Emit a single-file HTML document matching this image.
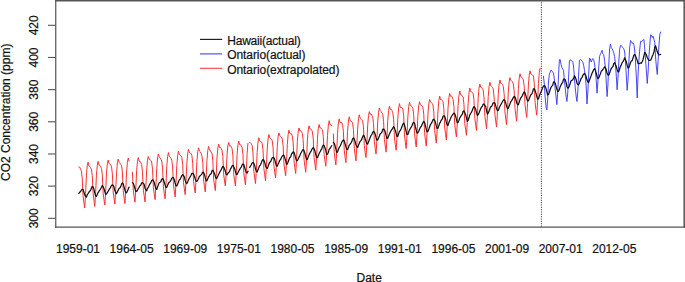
<!DOCTYPE html>
<html><head><meta charset="utf-8"><style>
html,body{margin:0;padding:0;background:#fff;width:685px;height:282px;overflow:hidden;font-family:"Liberation Sans", sans-serif;}
svg{display:block}
text{stroke:#111;stroke-width:0.2px}
</style></head><body>
<svg width="685" height="282" viewBox="0 0 685 282">
<rect width="685" height="282" fill="#fff"/>
<g fill="none" stroke-linejoin="round" stroke-linecap="round">
<path d="M78.87,167.07 79.71,167.17 80.54,169.21 81.38,171.14 82.22,178.08 83.06,195.73 83.89,202.67 84.73,208.04 85.57,193.51 86.40,175.94 87.24,165.65 88.08,162.23 88.92,165.78 89.75,166.41 90.59,167.82 91.43,169.16 92.26,175.44 93.10,193.56 93.94,200.21 94.77,206.39 95.61,193.03 96.45,175.18 97.29,165.38 98.12,161.32 98.96,165.08 99.80,165.30 100.63,166.36 101.47,168.49 102.31,174.61 103.15,193.28 103.98,199.59 104.82,205.04 105.66,191.77 106.49,172.93 107.33,163.71 108.17,160.08 109.01,163.49 109.84,164.00 110.68,164.62 111.52,166.81 112.35,173.95 113.19,192.01 114.03,198.03 114.87,204.10 115.70,189.83 116.54,172.77 117.38,162.81 118.21,159.05 119.05,162.28 119.89,163.21 120.72,164.36 121.56,165.59 122.40,172.09 123.24,190.71 124.07,197.83 124.91,203.55 125.75,189.92 126.58,171.92 127.42,162.24 128.26,158.03 129.10,161.02M132.44,172.12 133.28,190.07 134.12,196.79 134.96,202.14 135.79,189.17 136.63,170.58 137.47,161.30 138.30,157.50 139.14,161.23 139.98,161.15 140.82,162.80 141.65,164.45 142.49,172.21 143.33,190.10 144.16,195.60 145.00,201.89 145.84,187.48 146.68,169.93 147.51,159.52 148.35,156.44 149.19,159.43 150.02,159.40 150.86,160.52 151.70,162.07 152.53,169.31 153.37,187.25 154.21,193.80 155.05,199.63 155.88,186.23 156.72,168.72 157.56,158.11 158.39,153.98 159.23,156.83 160.07,158.02 160.91,159.54 161.74,161.00 162.58,167.92 163.42,186.73 164.25,193.59 165.09,198.78 165.93,185.29 166.77,166.75 167.60,156.70 168.44,152.57 169.28,156.48 170.11,157.04 170.95,158.25 171.79,160.07 172.63,167.05 173.46,184.81 174.30,191.16 175.14,196.97 175.97,183.65 176.81,165.46 177.65,155.79 178.48,151.14 179.32,154.32 180.16,155.11 181.00,155.61 181.83,157.58 182.67,164.31 183.51,182.77 184.34,188.52 185.18,194.62 186.02,180.56 186.86,163.14 187.69,153.47 188.53,149.31 189.37,152.71 190.20,152.75 191.04,153.64 191.88,155.35 192.72,163.25 193.55,181.32 194.39,187.82 195.23,193.06 196.06,179.48 196.90,161.19 197.74,151.71 198.58,147.78 199.41,151.01 200.25,151.70 201.09,153.27 201.92,155.89 202.76,161.96 203.60,179.95 204.44,186.28 205.27,191.94 206.11,179.07 206.95,160.44 207.78,150.53 208.62,146.43 209.46,150.11 210.29,150.24 211.13,152.41 211.97,152.94 212.81,160.23 213.64,179.16 214.48,185.24 215.32,190.59 216.15,176.83 216.99,157.95 217.83,147.94 218.67,144.09 219.50,147.43 220.34,147.32 221.18,148.53 222.01,150.26 222.85,156.57 223.69,174.64 224.53,180.97 225.36,186.05 226.20,172.78 227.04,154.95 227.87,145.43 228.71,142.44 229.55,146.20 230.39,145.57 231.22,146.74 232.06,148.51 232.90,155.65 233.73,174.37 234.57,180.50 235.41,185.93 236.24,172.90 237.08,154.66 237.92,144.98 238.76,141.03 239.59,144.61 240.43,144.51 241.27,145.90 242.10,147.51 242.94,154.31 243.78,172.32 244.62,179.41 245.45,184.92 246.29,171.19 247.13,153.20 247.96,143.42M249.64,142.56 250.48,142.78 251.31,143.69 252.15,145.59 252.99,152.93 253.82,171.20 254.66,177.65 255.50,183.60 256.34,170.07 257.17,152.28 258.01,142.17 258.85,137.83 259.68,140.79 260.52,141.49 261.36,141.87 262.19,143.33 263.03,150.11 263.87,168.27 264.71,174.81 265.54,180.84 266.38,166.61 267.22,148.94 268.05,138.99 268.89,134.55 269.73,137.68 270.57,138.49 271.40,138.93 272.24,140.76 273.08,148.19 273.91,165.82 274.75,172.37 275.59,177.92 276.43,164.82 277.26,146.82 278.10,136.70 278.94,132.88 279.77,135.78 280.61,136.41 281.45,136.92 282.29,139.07 283.12,145.97 283.96,163.69 284.80,170.56 285.63,175.79 286.47,163.07 287.31,144.82 288.14,134.62 288.98,130.18 289.82,133.07 290.66,133.98 291.49,133.71 292.33,136.20 293.17,142.95 294.00,160.84 294.84,167.79 295.68,173.50 296.52,160.09 297.35,141.57 298.19,131.87 299.03,127.94 299.86,131.22 300.70,130.78 301.54,131.74 302.38,133.58 303.21,140.75 304.05,159.21 304.89,166.38 305.72,172.24 306.56,158.87 307.40,140.30 308.24,129.96 309.07,125.82 309.91,128.93 310.75,129.06 311.58,129.73 312.42,131.97 313.26,138.90 314.10,157.54 314.93,164.01 315.77,170.13 316.61,156.92 317.44,138.76 318.28,128.60 319.12,124.48 319.95,127.97 320.79,127.68 321.63,129.13 322.47,129.88 323.30,136.45 324.14,154.56 324.98,161.09 325.81,166.25 326.65,154.07 327.49,135.53 328.33,125.73 329.16,120.69 330.00,124.45 330.84,124.67 331.67,125.82M333.35,133.91 334.19,152.32 335.02,158.95 335.86,164.88 336.70,152.23 337.53,133.47 338.37,122.97 339.21,118.84 340.05,122.53 340.88,122.41 341.72,122.58 342.56,124.72 343.39,131.65 344.23,150.12 345.07,157.19 345.90,162.76 346.74,149.17 347.58,131.29 348.42,121.06 349.25,116.81 350.09,120.53 350.93,120.96 351.76,121.92 352.60,122.90 353.44,129.70 354.28,148.15 355.11,155.09 355.95,160.91 356.79,146.50 357.62,129.21 358.46,118.91 359.30,114.78 360.14,117.90 360.97,118.67 361.81,119.57 362.65,120.73 363.48,127.23 364.32,145.57 365.16,152.71 366.00,157.59 366.83,144.09 367.67,125.89 368.51,115.63 369.34,111.65 370.18,114.25 371.02,113.74 371.85,115.30 372.69,116.77 373.53,123.62 374.37,141.70 375.20,148.33 376.04,154.02 376.88,140.63 377.71,122.04 378.55,112.19 379.39,108.01 380.23,110.68 381.06,111.64 381.90,113.05 382.74,113.97 383.57,121.37 384.41,139.66 385.25,146.01 386.09,152.13 386.92,138.97 387.76,120.35 388.60,110.32 389.43,106.21 390.27,109.32 391.11,109.17 391.95,110.47 392.78,112.78 393.62,119.13 394.46,137.99 395.29,144.61 396.13,150.25 396.97,137.18 397.81,118.52 398.64,107.97 399.48,103.63 400.32,107.66 401.15,107.53 401.99,107.74 402.83,109.08 403.66,115.76 404.50,134.88 405.34,142.51 406.18,148.49 407.01,135.32 407.85,116.89 408.69,106.53 409.52,102.38 410.36,105.71 411.20,106.02 412.04,106.70 412.87,108.19 413.71,115.21 414.55,133.29 415.38,141.17 416.22,146.97 417.06,133.97 417.90,115.20 418.73,105.85 419.57,101.72 420.41,104.57 421.24,105.31 422.08,105.79 422.92,107.67 423.76,114.23 424.59,132.71 425.43,140.28 426.27,146.12 427.10,132.86 427.94,114.10 428.78,104.01 429.61,99.52 430.45,101.98 431.29,102.59 432.13,103.31 432.96,104.88 433.80,112.04 434.64,130.60 435.47,137.21 436.31,143.07 437.15,129.57 437.99,110.99 438.82,100.54 439.66,96.08 440.50,99.49 441.33,99.34 442.17,100.72 443.01,101.50 443.85,108.78 444.68,127.02 445.52,133.59 446.36,140.02 447.19,126.13 448.03,108.26 448.87,97.48 449.71,93.51 450.54,96.29 451.38,95.92 452.22,97.08 453.05,99.56 453.89,106.31 454.73,124.43 455.56,130.92 456.40,136.93 457.24,124.01 458.08,105.46 458.91,95.67 459.75,91.03 460.59,94.56 461.42,94.75 462.26,96.25 463.10,97.07 463.94,104.20 464.77,123.41 465.61,129.68 466.45,135.37 467.28,122.90 468.12,103.67 468.96,93.11 469.80,88.05 470.63,91.60 471.47,91.84 472.31,92.43 473.14,93.72 473.98,100.18 474.82,118.45 475.66,124.79 476.49,130.48 477.33,117.18 478.17,98.33 479.00,88.51 479.84,84.12 480.68,87.05 481.52,87.15 482.35,88.56 483.19,90.11 484.03,97.96 484.86,116.41 485.70,122.20 486.54,128.80 487.37,115.97 488.21,96.78 489.05,86.69 489.89,82.35 490.72,85.37 491.56,86.44 492.40,87.16 493.23,88.85 494.07,97.01 494.91,114.28 495.75,121.58 496.58,126.93 497.42,112.65 498.26,94.27 499.09,84.19 499.93,79.97 500.77,83.40 501.61,83.45 502.44,84.39 503.28,86.50 504.12,93.57 504.95,111.99 505.79,119.07 506.63,124.69 507.47,110.86 508.30,92.11 509.14,82.08 509.98,77.59 510.81,80.46 511.65,80.89 512.49,81.82 513.32,84.00 514.16,90.68 515.00,108.49 515.84,115.28 516.67,121.29 517.51,106.96 518.35,88.93 519.18,78.31 520.02,73.72 520.86,76.89 521.70,77.19 522.53,78.29 523.37,79.89 524.21,86.37 525.04,104.83 525.88,111.84 526.72,117.41 527.56,103.58 528.39,85.21 529.23,75.12 530.07,70.84 530.90,74.00 531.74,74.56 532.58,75.32 533.42,75.66 534.25,83.29 535.09,102.35 535.93,109.55 536.76,115.21 537.60,101.94 538.44,83.33 539.27,72.83 540.11,68.12" stroke="#ff3030" stroke-width="1.0"/>
<path d="M543.46,76.30 544.30,84.00 545.13,97.00 545.97,106.00 546.81,110.00 547.65,100.00 548.48,82.00 549.32,74.50 550.16,72.20 550.99,70.00 551.83,70.80 552.67,71.90 553.51,73.10 554.34,79.00 555.18,89.00 556.02,97.00 556.85,104.60 557.69,93.00 558.53,76.00 559.37,59.70 560.20,59.50 561.04,64.30 561.88,67.50 562.71,68.90 563.55,70.80 564.39,80.00 565.23,88.00 566.06,96.00 566.90,101.50 567.74,93.00 568.57,78.00 569.41,61.00 570.25,59.70 571.08,60.50 571.92,61.00 572.76,61.50 573.60,67.00 574.43,78.00 575.27,88.00 576.11,96.00 576.94,101.50 577.78,92.00 578.62,75.00 579.46,60.20 580.29,59.70 581.13,59.70 581.97,61.10 582.80,62.00 583.64,65.20 584.48,70.30 585.32,76.00 586.15,86.00 586.99,104.00 587.83,92.00 588.66,75.00 589.50,58.00 590.34,59.00 591.18,62.00 592.01,60.00 592.85,58.50 593.69,59.50 594.52,64.00 595.36,70.00 596.20,80.00 597.03,93.20 597.87,82.00 598.71,68.00 599.55,56.40 600.38,54.30 601.22,52.50 602.06,50.30 602.89,53.70 603.73,54.60 604.57,60.30 605.41,68.00 606.24,82.00 607.08,96.60 607.92,85.00 608.75,65.00 609.59,49.00 610.43,44.20 611.27,47.40 612.10,48.80 612.94,50.60 613.78,52.90 614.61,56.60 615.45,64.00 616.29,76.00 617.13,89.70 617.96,78.00 618.80,62.00 619.64,49.20 620.47,45.50 621.31,45.50 622.15,46.90 622.99,47.90 623.82,48.80 624.66,52.00 625.50,62.00 626.33,76.00 627.17,90.30 628.01,80.00 628.84,62.00 629.68,48.00 630.52,40.50 631.36,41.90 632.19,43.20 633.03,42.80 633.87,44.60 634.70,50.00 635.54,62.00 636.38,78.00 637.22,98.00 638.05,75.00 638.89,60.00 639.73,50.00 640.56,41.40 641.40,41.90 642.24,41.00 643.08,40.00 643.91,39.50 644.75,49.20 645.59,60.00 646.42,72.00 647.26,83.50 648.10,72.00 648.94,56.00 649.77,45.00 650.61,34.80 651.45,35.20 652.28,37.50 653.12,36.10 653.96,39.40 654.79,42.60 655.63,58.00 656.47,68.00 657.31,74.50 658.14,60.00 658.98,45.00 659.82,34.30 660.65,32.00" stroke="#3c3cff" stroke-width="0.95"/>
<path d="M78.87,193.50 79.71,192.07 80.54,191.76 81.38,190.06 82.22,189.14 83.06,189.35 83.89,191.94 84.73,194.74 85.57,196.30 86.40,197.10 87.24,194.72 88.08,193.48 88.92,192.13 89.75,191.26 90.59,190.28 91.43,187.95 92.26,186.34 93.10,187.05 93.94,189.33 94.77,192.99 95.61,195.78 96.45,196.30 97.29,194.43 98.12,192.52 98.96,191.39 99.80,190.09 100.63,188.74 101.47,187.24 102.31,185.46 103.15,186.76 103.98,188.68 104.82,191.55 105.66,194.45 106.49,193.92 107.33,192.66 108.17,191.20 109.01,189.70 109.84,188.71 110.68,186.89 111.52,185.46 112.35,184.77 113.19,185.41 114.03,187.02 114.87,190.56 115.70,192.39 116.54,193.74 117.38,191.71 118.21,190.11 119.05,188.42 119.89,187.87 120.72,186.62 121.56,184.17 122.40,182.79 123.24,184.03 124.07,186.81 124.91,189.98 125.75,192.49 126.58,192.84 127.42,191.10 128.26,189.03 129.10,187.08M132.44,182.82 133.28,183.35 134.12,185.70 134.96,188.48 135.79,191.70 136.63,191.43 137.47,190.11 138.30,188.47 139.14,187.31 139.98,185.68 140.82,184.96 141.65,182.97 142.49,182.92 143.33,183.38 144.16,184.45 145.00,188.21 145.84,189.90 146.68,190.73 147.51,188.22 148.35,187.34 149.19,185.39 150.02,183.83 150.86,182.55 151.70,180.44 152.53,179.85 153.37,180.36 154.21,182.53 155.05,185.81 155.88,188.58 156.72,189.45 157.56,186.73 158.39,184.73 159.23,182.64 160.07,182.37 160.91,181.50 161.74,179.30 162.58,178.37 163.42,179.81 164.25,182.31 165.09,184.91 165.93,187.58 166.77,187.36 167.60,185.23 168.44,183.24 169.28,182.27 170.11,181.33 170.95,180.14 171.79,178.32 172.63,177.45 173.46,177.77 174.30,179.73 175.14,183.00 175.97,185.84 176.81,185.99 177.65,184.27 178.48,181.73 179.32,179.97 180.16,179.28 181.00,177.34 181.83,175.68 182.67,174.54 183.51,175.62 184.34,176.93 185.18,180.50 186.02,182.56 186.86,183.53 187.69,181.81 188.53,179.78 189.37,178.27 190.20,176.77 191.04,175.25 191.88,173.32 192.72,173.41 193.55,174.07 194.39,176.19 195.23,178.85 196.06,181.42 196.90,181.47 197.74,179.94 198.58,178.16 199.41,176.47 200.25,175.66 201.09,174.86 201.92,173.88 202.76,172.05 203.60,172.62 204.44,174.55 205.27,177.66 206.11,180.99 206.95,180.67 207.78,178.69 208.62,176.73 209.46,175.52 210.29,174.12 211.13,173.94 211.97,170.76 212.81,170.21 213.64,171.79 214.48,173.46 215.32,176.23 216.15,178.61 216.99,178.03 217.83,175.94 218.67,174.25 219.50,172.67 220.34,171.02 221.18,169.83 222.01,167.91 222.85,166.34 223.69,167.00 224.53,168.93 225.36,171.42 226.20,174.31 227.04,174.84 227.87,173.28 228.71,172.50 229.55,171.37 230.39,169.17 231.22,167.93 232.06,166.06 232.90,165.35 233.73,166.71 234.57,168.43 235.41,171.29 236.24,174.44 237.08,174.54 237.92,172.80 238.76,171.00 239.59,169.68 240.43,168.04 241.27,167.04 242.10,165.00 242.94,163.94 243.78,164.53 244.62,167.27 245.45,170.21 246.29,172.62 247.13,172.99 247.96,171.14M249.64,167.51 250.48,166.21 251.31,164.70 252.15,162.96 252.99,162.48 253.82,163.34 254.66,165.40 255.50,168.81 256.34,171.43 257.17,172.01 258.01,169.83 258.85,167.61 259.68,165.63 260.52,164.84 261.36,162.77 262.19,160.56 263.03,159.48 263.87,160.24 264.71,162.40 265.54,165.89 266.38,167.77 267.22,168.47 268.05,166.45 268.89,164.13 269.73,162.33 270.57,161.66 271.40,159.65 272.24,157.84 273.08,157.44 273.91,157.63 274.75,159.81 275.59,162.80 276.43,165.87 277.26,166.22 278.10,164.02 278.94,162.36 279.77,160.32 280.61,159.45 281.45,157.52 282.29,156.04 283.12,155.09 283.96,155.38 284.80,157.89 285.63,160.53 286.47,164.02 287.31,164.10 288.14,161.82 288.98,159.50 289.82,157.44 290.66,156.88 291.49,154.11 292.33,153.00 293.17,151.89 294.00,152.36 294.84,154.95 295.68,158.10 296.52,160.85 297.35,160.66 298.19,158.91 299.03,157.12 299.86,155.48 300.70,153.49 301.54,152.02 302.38,150.22 303.21,149.56 304.05,150.62 304.89,153.45 305.72,156.77 306.56,159.56 307.40,159.31 308.24,156.88 309.07,154.87 309.91,153.05 310.75,151.65 311.58,149.90 312.42,148.52 313.26,147.60 314.10,148.85 314.93,150.94 315.77,154.53 316.61,157.49 317.44,157.68 318.28,155.43 319.12,153.45 319.95,152.04 320.79,150.19 321.63,149.26 322.47,146.30 323.30,144.99 324.14,145.70 324.98,147.84 325.81,150.41 326.65,154.47 327.49,154.26 328.33,152.39 329.16,149.43 330.00,148.31 330.84,147.00 331.67,145.75M333.35,142.31 334.19,143.32 335.02,145.57 335.86,148.97 336.70,152.52 337.53,152.07 338.37,149.46 339.21,147.47 340.05,146.26 340.88,144.61 341.72,142.31 342.56,140.83 343.39,139.91 344.23,140.99 345.07,143.71 345.90,146.71 346.74,149.27 347.58,149.75 348.42,147.44 349.25,145.32 350.09,144.14 350.93,143.06 351.76,141.62 352.60,138.90 353.44,137.84 354.28,138.90 355.11,141.49 355.95,144.75 356.79,146.44 357.62,147.55 358.46,145.15 359.30,143.16 360.14,141.36 360.97,140.64 361.81,139.12 362.65,136.60 363.48,135.22 364.32,136.16 365.16,138.96 366.00,141.23 366.83,143.88 367.67,144.03 368.51,141.68 369.34,139.85 370.18,137.48 371.02,135.41 371.85,134.59 372.69,132.40 373.53,131.39 374.37,132.06 375.20,134.31 376.04,137.45 376.88,140.22 377.71,139.94 378.55,138.03 379.39,135.99 380.23,133.70 381.06,133.19 381.90,132.21 382.74,129.43 383.57,129.01 384.41,129.89 385.25,131.85 386.09,135.44 386.92,138.46 387.76,138.16 388.60,136.05 389.43,134.07 390.27,132.26 391.11,130.57 391.95,129.47 392.78,128.17 393.62,126.63 394.46,128.12 395.29,130.37 396.13,133.45 396.97,136.57 397.81,136.21 398.64,133.56 399.48,131.34 400.32,130.50 401.15,128.83 401.99,126.58 402.83,124.25 403.66,123.06 404.50,124.83 405.34,128.14 406.18,131.58 407.01,134.59 407.85,134.49 408.69,132.03 409.52,130.02 410.36,128.43 411.20,127.22 412.04,125.47 412.87,123.30 413.71,122.48 414.55,123.14 415.38,126.72 416.22,129.97 417.06,133.16 417.90,132.69 418.73,131.31 419.57,129.31 420.41,127.22 421.24,126.47 422.08,124.50 422.92,122.75 423.76,121.43 424.59,122.53 425.43,125.77 426.27,129.07 427.10,131.98 427.94,131.53 428.78,129.36 429.61,126.98 430.45,124.47 431.29,123.59 432.13,121.88 432.96,119.79 433.80,119.12 434.64,120.29 435.47,122.53 436.31,125.84 437.15,128.49 437.99,128.24 438.82,125.68 439.66,123.33 440.50,121.83 441.33,120.15 442.17,119.13 443.01,116.21 443.85,115.66 444.68,116.49 445.52,118.68 446.36,122.61 447.19,124.84 448.03,125.34 448.87,122.43 449.71,120.61 450.54,118.44 451.38,116.51 452.22,115.27 453.05,114.15 453.89,113.04 454.73,113.74 455.56,115.85 456.40,119.33 457.24,122.59 458.08,122.36 458.91,120.52 459.75,117.97 460.59,116.61 461.42,115.27 462.26,114.39 463.10,111.51 463.94,110.80 464.77,112.67 465.61,114.53 466.45,117.67 467.28,121.42 468.12,120.47 468.96,117.80 469.80,114.82 470.63,113.47 471.47,112.18 472.31,110.33 473.14,107.95 473.98,106.54 474.82,107.41 475.66,109.35 476.49,112.49 477.33,115.35 478.17,114.81 479.00,112.92 479.84,110.66 480.68,108.65 481.52,107.21 482.35,106.23 483.19,104.13 484.03,104.18 484.86,105.24 485.70,106.60 486.54,110.70 487.37,114.07 488.21,113.17 489.05,110.99 489.89,108.77 490.72,106.86 491.56,106.46 492.40,104.75 493.23,102.79 494.07,103.18 494.91,102.98 495.75,105.94 496.58,108.73 497.42,110.54 498.26,110.50 499.09,108.34 499.93,106.25 500.77,104.77 501.61,103.29 502.44,101.81 503.28,100.30 504.12,99.53 504.95,100.56 505.79,103.29 506.63,106.35 507.47,108.65 508.30,108.21 509.14,106.10 509.98,103.72 510.81,101.65 511.65,100.57 512.49,99.09 513.32,97.65 514.16,96.46 515.00,96.84 515.84,99.27 516.67,102.74 517.51,104.51 518.35,104.83 519.18,102.10 520.02,99.62 520.86,97.87 521.70,96.65 522.53,95.35 523.37,93.29 524.21,91.89 525.04,92.97 525.88,95.62 526.72,98.63 527.56,100.93 528.39,100.89 529.23,98.72 530.07,96.57 530.90,94.80 531.74,93.87 532.58,92.19 533.42,88.80 534.25,88.62 535.09,90.33 535.93,93.19 536.76,96.29 537.60,99.19 538.44,98.90 539.27,96.29 540.11,93.69 540.95,92.10 541.79,90.02 542.62,87.80 543.46,86.10 544.30,85.66 545.13,86.10 545.97,88.38 546.81,91.68 547.65,95.01 548.48,94.49 549.32,92.39 550.16,89.52 550.99,87.45 551.83,86.11 552.67,85.37 553.51,82.16 554.34,81.69 555.18,83.19 556.02,86.18 556.85,89.11 557.69,91.55 558.53,91.15 559.37,89.36 560.20,86.66 561.04,84.99 561.88,83.36 562.71,82.27 563.55,79.18 564.39,79.09 565.23,79.83 566.06,82.40 566.90,86.44 567.74,88.09 568.57,87.83 569.41,85.70 570.25,83.28 571.08,80.76 571.92,80.28 572.76,79.94 573.60,78.04 574.43,75.90 575.27,77.16 576.11,79.41 576.94,83.06 577.78,84.52 578.62,84.83 579.46,82.90 580.29,80.69 581.13,78.47 581.97,77.61 582.80,75.45 583.64,74.28 584.48,73.33 585.32,74.39 586.15,76.72 586.99,79.81 587.83,82.01 588.66,82.51 589.50,79.95 590.34,77.70 591.18,75.63 592.01,73.23 592.85,71.67 593.69,69.60 594.52,68.73 595.36,70.10 596.20,73.23 597.03,76.21 597.87,78.62 598.71,77.99 599.55,75.69 600.38,73.89 601.22,71.41 602.06,70.56 602.89,69.37 603.73,68.33 604.57,66.81 605.41,67.54 606.24,69.52 607.08,73.34 607.92,75.03 608.75,75.16 609.59,73.10 610.43,70.56 611.27,68.54 612.10,67.34 612.94,66.48 613.78,63.61 614.61,62.71 615.45,64.37 616.29,66.54 617.13,69.71 617.96,71.77 618.80,71.86 619.64,68.76 620.47,66.57 621.31,64.63 622.15,62.62 622.99,61.60 623.82,60.03 624.66,57.82 625.50,59.72 626.33,61.78 627.17,65.19 628.01,68.00 628.84,67.60 629.68,65.25 630.52,62.55 631.36,60.93 632.19,60.67 633.03,57.84 633.87,55.25 634.70,54.41 635.54,55.86 636.38,58.11 637.22,60.36 638.05,63.58 638.89,63.74 639.73,63.26 640.56,62.94 641.40,63.26 642.24,61.49 643.08,59.40 643.91,55.86 644.75,52.32 645.59,53.45 646.42,55.06 647.26,57.47 648.10,59.08 648.94,60.36 649.77,60.36 650.61,60.20 651.45,58.43 652.28,56.34 653.12,54.41 653.96,51.84 654.79,47.34 655.63,45.89 656.47,48.95 657.31,51.84 658.14,53.93 658.98,54.90 659.82,54.74 660.65,54.41" stroke="#111" stroke-width="1.25"/>
</g>
<line x1="541.4" y1="0" x2="541.4" y2="227" stroke="#222" stroke-width="1" stroke-dasharray="1 1.35"/>
<g stroke="#555" fill="none">
<line x1="55.15" y1="0.7" x2="684.95" y2="0.7" stroke-width="1.4"/>
<line x1="55.75" y1="0" x2="55.75" y2="227.67" stroke-width="1.2"/>
<line x1="684.2" y1="0" x2="684.2" y2="227.67" stroke-width="1.5"/>
<line x1="55.15" y1="227.05" x2="684.95" y2="227.05" stroke-width="1.25"/>
</g>
<line x1="48" y1="218.30" x2="55.6" y2="218.30" stroke="#555" stroke-width="1.1"/>
<text transform="translate(37.8,218.30) rotate(-90)" text-anchor="middle" font-family='"Liberation Sans", sans-serif' font-size="12" fill="#111">300</text>
<line x1="48" y1="186.13" x2="55.6" y2="186.13" stroke="#555" stroke-width="1.1"/>
<text transform="translate(37.8,186.13) rotate(-90)" text-anchor="middle" font-family='"Liberation Sans", sans-serif' font-size="12" fill="#111">320</text>
<line x1="48" y1="153.97" x2="55.6" y2="153.97" stroke="#555" stroke-width="1.1"/>
<text transform="translate(37.8,153.97) rotate(-90)" text-anchor="middle" font-family='"Liberation Sans", sans-serif' font-size="12" fill="#111">340</text>
<line x1="48" y1="121.80" x2="55.6" y2="121.80" stroke="#555" stroke-width="1.1"/>
<text transform="translate(37.8,121.80) rotate(-90)" text-anchor="middle" font-family='"Liberation Sans", sans-serif' font-size="12" fill="#111">360</text>
<line x1="48" y1="89.64" x2="55.6" y2="89.64" stroke="#555" stroke-width="1.1"/>
<text transform="translate(37.8,89.64) rotate(-90)" text-anchor="middle" font-family='"Liberation Sans", sans-serif' font-size="12" fill="#111">380</text>
<line x1="48" y1="57.47" x2="55.6" y2="57.47" stroke="#555" stroke-width="1.1"/>
<text transform="translate(37.8,57.47) rotate(-90)" text-anchor="middle" font-family='"Liberation Sans", sans-serif' font-size="12" fill="#111">400</text>
<line x1="48" y1="25.30" x2="55.6" y2="25.30" stroke="#555" stroke-width="1.1"/>
<text transform="translate(37.8,25.30) rotate(-90)" text-anchor="middle" font-family='"Liberation Sans", sans-serif' font-size="12" fill="#111">420</text>
<text x="78.00" y="253" text-anchor="middle" font-family='"Liberation Sans", sans-serif' font-size="12" fill="#111">1959-01</text>
<text x="131.63" y="253" text-anchor="middle" font-family='"Liberation Sans", sans-serif' font-size="12" fill="#111">1964-05</text>
<text x="185.26" y="253" text-anchor="middle" font-family='"Liberation Sans", sans-serif' font-size="12" fill="#111">1969-09</text>
<text x="238.89" y="253" text-anchor="middle" font-family='"Liberation Sans", sans-serif' font-size="12" fill="#111">1975-01</text>
<text x="292.52" y="253" text-anchor="middle" font-family='"Liberation Sans", sans-serif' font-size="12" fill="#111">1980-05</text>
<text x="346.15" y="253" text-anchor="middle" font-family='"Liberation Sans", sans-serif' font-size="12" fill="#111">1985-09</text>
<text x="399.78" y="253" text-anchor="middle" font-family='"Liberation Sans", sans-serif' font-size="12" fill="#111">1991-01</text>
<text x="453.41" y="253" text-anchor="middle" font-family='"Liberation Sans", sans-serif' font-size="12" fill="#111">1996-05</text>
<text x="507.04" y="253" text-anchor="middle" font-family='"Liberation Sans", sans-serif' font-size="12" fill="#111">2001-09</text>
<text x="560.67" y="253" text-anchor="middle" font-family='"Liberation Sans", sans-serif' font-size="12" fill="#111">2007-01</text>
<text x="614.30" y="253" text-anchor="middle" font-family='"Liberation Sans", sans-serif' font-size="12" fill="#111">2012-05</text>
<text x="369.2" y="281.9" text-anchor="middle" font-family='"Liberation Sans", sans-serif' font-size="12" fill="#111">Date</text>
<text transform="translate(9.8,112.3) rotate(-90)" text-anchor="middle" font-family='"Liberation Sans", sans-serif' font-size="12" fill="#111">CO2 Concentration (ppm)</text>
<line x1="200" y1="39.40" x2="222.2" y2="39.40" stroke="#222" stroke-width="1.2"/>
<text x="227.2" y="44.60" textLength="73.5" font-family='"Liberation Sans", sans-serif' font-size="12" fill="#111">Hawaii(actual)</text>
<line x1="200" y1="53.90" x2="222.2" y2="53.90" stroke="#4040ff" stroke-width="1.1"/>
<text x="227.2" y="59.20" textLength="78.2" font-family='"Liberation Sans", sans-serif' font-size="12" fill="#111">Ontario(actual)</text>
<line x1="200" y1="68.30" x2="222.2" y2="68.30" stroke="#ff4040" stroke-width="1.1"/>
<text x="227.2" y="73.60" textLength="112.2" font-family='"Liberation Sans", sans-serif' font-size="12" fill="#111">Ontario(extrapolated)</text>
</svg>
</body></html>
